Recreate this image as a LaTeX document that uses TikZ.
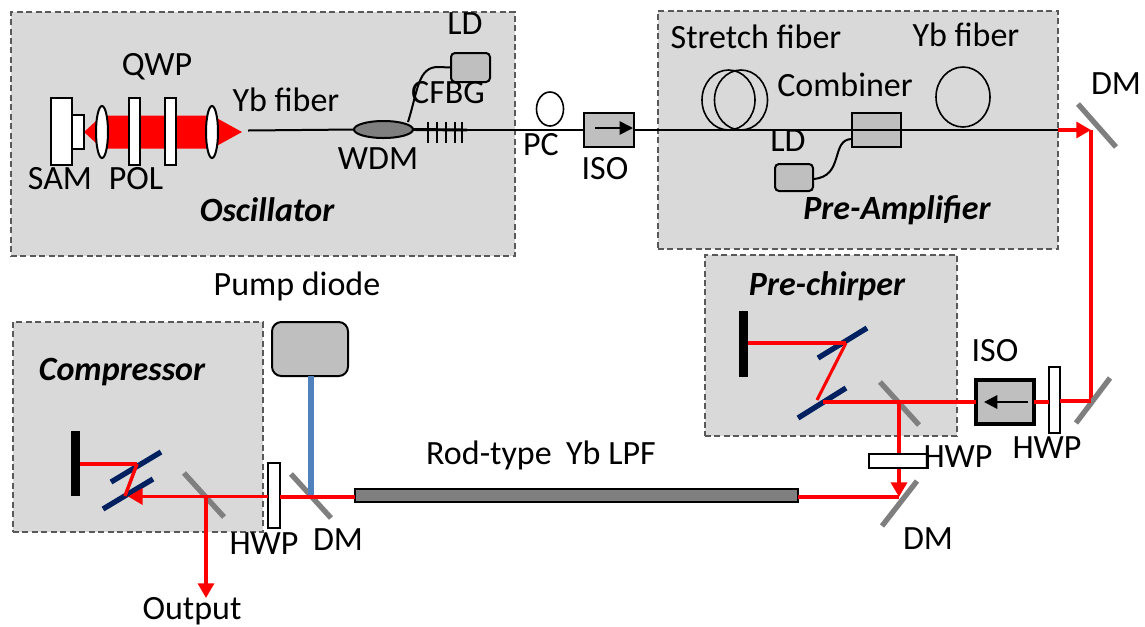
\documentclass[tikz,border=0pt]{standalone}
\usepackage{fontspec}
\setmainfont{Carlito}
\usetikzlibrary{arrows.meta,shapes.geometric}
\definecolor{panelgray}{HTML}{D9D9D9}
\definecolor{dashgray}{HTML}{595959}
\definecolor{partgray}{HTML}{BFBFBF}
\definecolor{mirrorgray}{HTML}{7F7F7F}
\definecolor{gratingblue}{HTML}{002060}
\definecolor{pumpblue}{HTML}{4F81BD}
\definecolor{beamred}{HTML}{FF0000}
\newcommand{\rectnode}[6]{\node[#1,minimum width={(#5-#3)*0.75pt},minimum height={(#6-#4)*0.75pt}] (#2) at ({(#3+#5)/2},{(#4+#6)/2}) {};}
\newcommand{\ellnode}[6]{\node[#1,ellipse,minimum width={2*#5*0.75pt},minimum height={2*#6*0.75pt}] (#2) at (#3,#4) {};}
\tikzset{
  part/.style={draw=black,inner sep=0pt,outer sep=0pt,line width=1.5pt},
  panel/.style={part,fill=panelgray,draw=dashgray,dash pattern=on 4.5pt off 2.6pt,line width=1.1pt},
  plate/.style={part,fill=white},
  grayunit/.style={part,fill=partgray},
  lens/.style={part,fill=white},
  coil/.style={part,line width=1.2pt},
  bar/.style={fill=black,inner sep=0pt,outer sep=0pt},
  lab/.style={inner sep=0pt,font=\fontsize{25.5}{27}\selectfont},
  title/.style={lab,font=\fontsize{25.5}{27}\selectfont\bfseries\itshape},
  mirror/.style={draw=mirrorgray,line width=4pt},
  grating/.style={draw=gratingblue,line width=4pt},
  fiber/.style={draw=black,line width=1.5pt},
  beam/.style={draw=beamred,line width=2.3pt},
  tipped/.style={-{Triangle[length=11pt,width=12pt]}},
  smalltip/.style={-{Triangle[length=10pt,width=10pt]}},
}
\begin{document}
\begin{tikzpicture}[x=0.75pt,y=-0.75pt]
\useasboundingbox (0,0) rectangle (1145,626);
% panels
\rectnode{panel}{osc}{11}{12}{515}{256}
\rectnode{panel}{preamp}{658}{11}{1058}{249}
\rectnode{panel}{prechirp}{705}{255}{957}{436}
\rectnode{panel}{comp}{13}{322}{263}{532}
% oscillator
\fill[beamred] (84,132) -- (102,115.5) -- (212,115.5) -- (242,132) -- (212,148.5) -- (102,148.5) -- cycle;
\rectnode{plate}{sam}{51}{98}{72}{165}
\rectnode{plate}{samb}{72}{115}{84}{149}
\ellnode{lens}{lensa}{102}{132}{6}{26}
\rectnode{plate}{pol}{129}{98}{140}{165}
\rectnode{plate}{qwp}{165}{98}{176}{165}
\ellnode{lens}{lensb}{212}{132}{6}{26}
\coordinate (fibstart) at (248,130.5);
\coordinate (gratingend) at (467,130);
\ellnode{part,fill=mirrorgray}{wdm}{383.5}{129.5}{29.5}{8.5}
\rectnode{grayunit,rounded corners=3pt}{ldosc}{451}{53}{490}{82}
\draw[fiber] (fibstart) -- (wdm.west);
\draw[fiber,line width=2.2pt] (wdm.east) -- (gratingend);
\foreach \gx in {428,437,446,454.5,462}
  \draw[fiber] (\gx,121.5) -- (\gx,142.5);
\draw[fiber] (ldosc.west) -- (438,67) .. controls (418,67) and (418,90) .. (408,122);
% fibre to pre-amp
\ellnode{coil}{pc}{550}{109}{13.5}{17}
\rectnode{grayunit}{isoa}{584}{113}{634}{147}
\rectnode{grayunit}{combiner}{852}{113}{901}{147}
\coordinate (pafiberend) at (1058,130);
\draw[fiber] (gratingend) -- (isoa.west);
\draw[fiber,line width=1.8pt] (isoa.east) -- (pafiberend);
\draw[fiber,line width=1.8pt] (combiner.west) -- (combiner.east);
\coordinate (isoaL) at (595,128);
\coordinate (isoaR) at (633,128);
\draw[black,line width=1.2pt,smalltip] (isoaL) -- (isoaR);
\ellnode{coil}{stra}{728.5}{100}{26.5}{30}
\ellnode{coil}{strb}{741}{100}{26.5}{30}
\ellnode{coil}{ybcoil}{963}{97}{27}{30}
\rectnode{grayunit,rounded corners=3pt}{ldpa}{775}{164}{813}{191}
\draw[fiber] (ldpa.east |- 0,179) .. controls (845,177) and (830,139) .. (852,139);
% top-right mirror and beam
\coordinate (dma) at (1078,104);
\coordinate (dmb) at (1116,147);
\draw[mirror] (dma) -- (dmb);
\coordinate (dmhit) at (1091,130);
\coordinate (dmhitb) at (1091,401);
\draw[beam,tipped] (pafiberend) -- (dmhit);
\draw[beam] (dmhit) -- (dmhitb);
\coordinate (dmc) at (1110,378);
\coordinate (dmd) at (1076,423);
\draw[mirror] (dmc) -- (dmd);
% pre-chirper
\rectnode{grayunit,line width=2.8pt}{isob}{976}{380}{1034}{424}
\rectnode{plate}{hwpb}{1049}{367}{1060}{433}
\coordinate (isobR) at (1028,402);
\coordinate (isobL) at (984,402);
\draw[black,line width=1.8pt,smalltip] (isobR) -- (isobL);
\draw[beam] (dmhitb) -- (hwpb.east |- dmhitb);
\draw[beam] (hwpb.west |- isob.east) -- (isob.east);
\rectnode{bar}{barpc}{739}{311}{748}{377}
\coordinate (bsHit) at (899,402);
\coordinate (gratA) at (823,402);
\coordinate (gratAb) at (817,400);
\coordinate (gratB) at (846,343);
\coordinate (gaa) at (818,358);
\coordinate (gab) at (867,328);
\coordinate (gac) at (798,418);
\coordinate (gad) at (846,388);
\draw[grating] (gaa) -- (gab);
\draw[grating] (gac) -- (gad);
\coordinate (bsa) at (880,382);
\coordinate (bsb) at (919,425);
\draw[mirror] (bsa) -- (bsb);
\draw[beam] (gratAb) -- (gratB);
\draw[beam] (gratB) -- (barpc.east |- gratB);
\draw[beam] (isob.west) -- (gratA);
% rod line
\coordinate (dmlow) at (899,497);
\rectnode{part,fill=mirrorgray}{rod}{355}{489}{798}{502}
\coordinate (dme) at (917,481);
\coordinate (dmf) at (882,526);
\draw[mirror] (dme) -- (dmf);
\draw[beam] (rod.east |- dmlow) -- (dmlow);
\draw[beam,line width=2.6pt,tipped] (bsHit) -- (dmlow);
\rectnode{plate}{hwpc}{869}{454}{928}{468}
% pump and compressor
\rectnode{grayunit,rounded corners=7pt}{pump}{272}{322}{348}{376}
\coordinate (pumphit) at (311,497);
\coordinate (dmg) at (291,474);
\coordinate (dmh) at (331,518);
\draw[mirror] (dmg) -- (dmh);
\draw[draw=pumpblue,line width=3.8pt] (pump.south -| pumphit) -- (pumphit);
\rectnode{plate}{hwpd}{268}{463}{280}{528}
\draw[beam] (rod.west |- pumphit) -- (hwpd.east |- pumphit);
\coordinate (compTip) at (128,496.5);
\coordinate (outsplit) at (206,496.5);
\coordinate (outend) at (206,598);
\rectnode{bar}{barcp}{71}{431}{80}{496}
\coordinate (gcB) at (137,464);
\coordinate (gcA) at (125,496);
\coordinate (gca) at (161,452);
\coordinate (gcb) at (111,482);
\coordinate (gcc) at (153,479);
\coordinate (gcd) at (103,509);
\draw[grating] (gca) -- (gcb);
\draw[grating] (gcc) -- (gcd);
\draw[beam] (barcp.east |- gcB) -- (gcB);
\draw[beam,line width=2.6pt] (gcB) -- (gcA);
\coordinate (cma) at (184,473);
\coordinate (cmb) at (224,517);
\draw[mirror] (cma) -- (cmb);
\draw[beam,line width=2.6pt,tipped] (hwpd.west |- compTip) -- (compTip);
\draw[beam,tipped] (outsplit) -- (outend);
% labels
\node[lab] (tLDa) at (465,24) {LD};
\node[lab] (tQWP) at (157,67) {QWP};
\node[lab] (tYba) at (286,100) {Yb fiber};
\node[lab] (tCFBG) at (448,93) {CFBG};
\node[lab] (tSAM) at (60,179) {SAM};
\node[lab] (tPOL) at (136,179) {POL};
\node[lab] (tWDM) at (378,159) {WDM};
\node[title] (tOsc) at (267,210) {Oscillator};
\node[lab] (tPC) at (541,145) {PC};
\node[lab] (tISOa) at (605,169) {ISO};
\node[lab] (tStretch) at (756,37) {Stretch fiber};
\node[lab] (tYbb) at (966,35) {Yb fiber};
\node[lab] (tComb) at (845,85) {Combiner};
\node[lab] (tLDb) at (788,141) {LD};
\node[title] (tPre) at (897,210) {Pre-Amplifier};
\node[lab] (tDMa) at (1116,84) {DM};
\node[title] (tChirp) at (827,286) {Pre-chirper};
\node[lab] (tISOb) at (995,351) {ISO};
\node[lab] (tHWPa) at (1047,448) {HWP};
\node[lab] (tHWPb) at (958,457) {HWP};
\node[lab] (tDMb) at (928,539) {DM};
\node[lab] (tRod) at (541,455) {Rod-type\hspace{0.2em} Yb LPF};
\node[lab] (tPump) at (297,286) {Pump diode};
\node[title] (tComp) at (122,372) {Compressor};
\node[lab] (tHWPc) at (264,544) {HWP};
\node[lab] (tDMc) at (338,540) {DM};
\node[lab] (tOut) at (192,611) {Output};
\end{tikzpicture}
\end{document}
